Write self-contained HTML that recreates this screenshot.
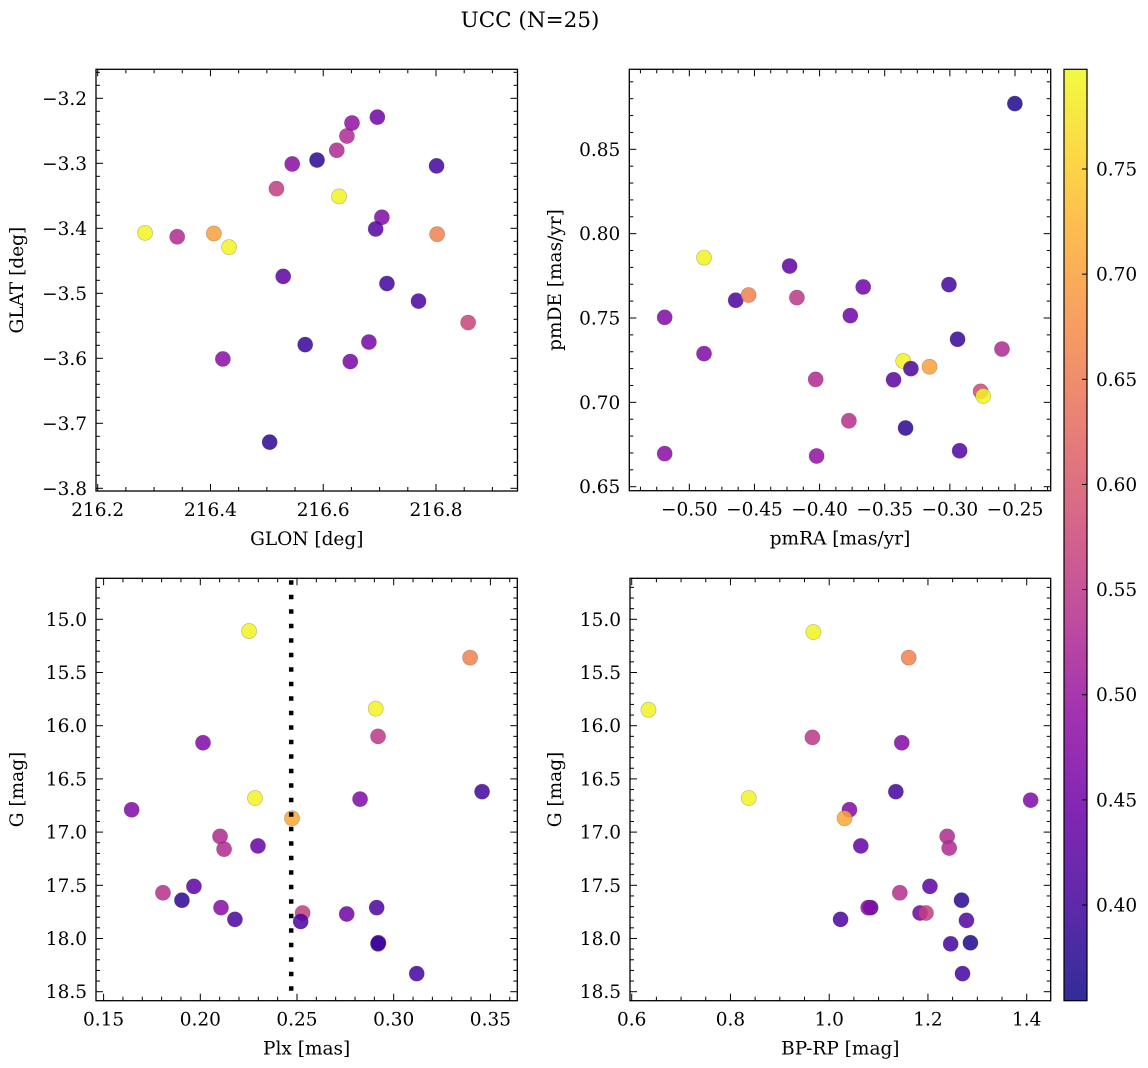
<!DOCTYPE html>
<html><head><meta charset="utf-8"><style>
body{margin:0;background:#fff;}
svg{display:block;font-family:"DejaVu Serif","Liberation Serif",serif;}
</style></head><body>
<svg id="fig" width="1148" height="1068" viewBox="0 0 1148 1068" xmlns="http://www.w3.org/2000/svg">
<rect width="1148" height="1068" fill="#fff"/>
<text x="530" y="27" text-anchor="middle" font-size="21.5">UCC (N=25)</text>
</svg>
<script>
// Panel 1: GLON vs GLAT
const glon1 = [216.284,216.341,216.406,216.433,216.517,216.529,216.545,216.422,216.568,216.589,216.624,216.642,216.651,216.628,216.648,216.696,216.704,216.693,216.713,216.681,216.769,216.801,216.802,216.857,216.505];
const glat1 = [-3.407,-3.413,-3.408,-3.429,-3.339,-3.474,-3.301,-3.601,-3.579,-3.295,-3.280,-3.258,-3.238,-3.351,-3.605,-3.229,-3.383,-3.401,-3.485,-3.575,-3.512,-3.304,-3.409,-3.545,-3.729];
const col1 = [0.79,0.53,0.70,0.79,0.56,0.43,0.48,0.48,0.39,0.38,0.53,0.53,0.49,0.79,0.46,0.45,0.47,0.42,0.40,0.46,0.41,0.40,0.66,0.57,0.38];
// Panel 2: pmRA vs pmDE
const pmra2 = [-0.2501,-0.4887,-0.5189,-0.5189,-0.4887,-0.4644,-0.4545,-0.4230,-0.4174,-0.4030,-0.4023,-0.3764,-0.3775,-0.3665,-0.3432,-0.3358,-0.3299,-0.3340,-0.3156,-0.3007,-0.2941,-0.2925,-0.2600,-0.2764,-0.2744];
const pmde2 = [0.8771,0.7858,0.7504,0.6696,0.7289,0.7605,0.7636,0.7808,0.7621,0.7136,0.6682,0.7514,0.6891,0.7684,0.7134,0.7245,0.7200,0.6848,0.7211,0.7698,0.7374,0.6713,0.7316,0.7065,0.7038];
const col2 = [0.37,0.79,0.47,0.48,0.47,0.41,0.66,0.43,0.55,0.53,0.49,0.45,0.54,0.45,0.43,0.79,0.41,0.38,0.70,0.40,0.39,0.42,0.53,0.58,0.79];
// Panel 3: Plx vs G
const plx3 = [0.1645,0.2014,0.2252,0.2283,0.2102,0.2123,0.2298,0.1807,0.1905,0.1967,0.2107,0.2179,0.2907,0.2919,0.2826,0.3457,0.2474,0.2529,0.2519,0.2757,0.2912,0.2919,0.2921,0.3119,0.3395];
const g3 = [16.79,16.16,15.11,16.68,17.04,17.16,17.13,17.57,17.64,17.51,17.71,17.82,15.84,16.10,16.69,16.62,16.87,17.76,17.84,17.77,17.71,18.05,18.04,18.33,15.36];
const col3 = [0.47,0.47,0.79,0.79,0.53,0.53,0.44,0.54,0.38,0.43,0.48,0.41,0.79,0.55,0.47,0.40,0.71,0.56,0.41,0.45,0.41,0.37,0.40,0.40,0.66];
// Panel 4: BP-RP vs G
const bprp4 = [0.634,0.968,0.837,1.161,0.966,1.147,1.135,1.408,1.041,1.031,1.064,1.239,1.243,1.204,1.143,1.268,1.084,1.079,1.184,1.196,1.023,1.278,1.246,1.286,1.270];
const g4 = [15.85,15.12,16.68,15.36,16.11,16.16,16.62,16.70,16.79,16.87,17.13,17.04,17.15,17.51,17.57,17.64,17.71,17.71,17.76,17.76,17.82,17.83,18.05,18.04,18.33];
const col4 = [0.79,0.79,0.79,0.66,0.55,0.47,0.40,0.47,0.47,0.71,0.44,0.53,0.53,0.43,0.54,0.38,0.41,0.48,0.45,0.56,0.41,0.42,0.40,0.37,0.40];
const plxLine = [0.247];
const cbTicks = [0.40,0.45,0.50,0.55,0.60,0.65,0.70,0.75];
const cMin = 0.355, cMax = 0.797;

const NS = "http://www.w3.org/2000/svg";
const svg = document.getElementById('fig');
const TF = 18.5, LF = 18.5;
function el(tag, attrs, parent){const e=document.createElementNS(NS,tag);for(const k in attrs)e.setAttribute(k,attrs[k]);(parent||svg).appendChild(e);return e;}
const stops=[[0,[13,8,135]],[0.1,[65,4,157]],[0.2,[106,0,168]],[0.3,[143,13,164]],[0.4,[177,42,144]],[0.5,[204,71,120]],[0.6,[225,100,98]],[0.7,[242,132,75]],[0.8,[252,166,54]],[0.9,[252,206,37]],[1,[240,249,33]]];
function plasma(t){t=Math.max(0,Math.min(1,t));for(let i=1;i<stops.length;i++){if(t<=stops[i][0]){const a=stops[i-1],b=stops[i];const f=(t-a[0])/(b[0]-a[0]);const c=a[1].map((v,j)=>Math.round(v+(b[1][j]-v)*f));return `rgb(${c[0]},${c[1]},${c[2]})`;}}return 'rgb(240,249,33)';}
function cmap(v){return plasma((v-cMin)/(cMax-cMin));}
function lin(v1,p1,v2,p2){const s=(p2-p1)/(v2-v1);const f=v=>p1+(v-v1)*s;f.inv=p=>v1+(p-p1)/s;return f;}
function fmt(v,d){const s=Math.abs(v).toFixed(d);return (v< -1e-9?'\u2212':'')+s;}

function panel(cfg){
  const g=el('g',{});
  
  
  const {x0,x1,y0,y1}=cfg.box;
  const sx=lin(...cfg.xs), sy=lin(...cfg.ys);
  const xa=Math.min(sx.inv(x0),sx.inv(x1)), xb=Math.max(sx.inv(x0),sx.inv(x1));
  const ya=Math.min(sy.inv(y0),sy.inv(y1)), yb=Math.max(sy.inv(y0),sy.inv(y1));
  const pg=el('g',{},g);
  
  
  cfg.x.forEach((xv,i)=>{
    const c=el('circle',{cx:sx(xv),cy:sy(cfg.y[i]),r:7.6,fill:cmap(cfg.c[i]),'fill-opacity':0.85,stroke:'rgba(60,60,60,0.35)','stroke-width':0.6},pg);
    
    
  });
  if(cfg.vline){cfg.vline.forEach(v=>{const l=el('line',{x1:sx(v),x2:sx(v),y1:y0+2,y2:y1,stroke:'#000','stroke-width':4.5,'stroke-dasharray':'4.5 10'},g);});}
  const tg=el('g',{stroke:'#000','stroke-width':1},g);
  
  
  const eps=1e-9;
  const n0=Math.ceil(xa/cfg.xminor-1e-6), n1=Math.floor(xb/cfg.xminor+1e-6);
  for(let n=n0;n<=n1;n++){const v=n*cfg.xminor;const p=sx(v);const major=Math.abs(v/cfg.xmajor-Math.round(v/cfg.xmajor))<1e-6;const L=major?7:4;el('line',{x1:p,x2:p,y1:y1,y2:y1-L},tg);el('line',{x1:p,x2:p,y1:y0,y2:y0+L},tg);
    if(major){const t=el('text',{x:p,y:y1+25,'text-anchor':'middle','font-size':TF,stroke:'none',fill:'#000'},g);t.textContent=fmt(v,cfg.xd);}}
  const m0=Math.ceil(ya/cfg.yminor-1e-6), m1=Math.floor(yb/cfg.yminor+1e-6);
  for(let n=m0;n<=m1;n++){const v=n*cfg.yminor;const p=sy(v);const major=Math.abs(v/cfg.ymajor-Math.round(v/cfg.ymajor))<1e-6;const L=major?7:4;el('line',{y1:p,y2:p,x1:x0,x2:x0+L},tg);el('line',{y1:p,y2:p,x1:x1,x2:x1-L},tg);
    if(major){const t=el('text',{x:x0-9,y:p+6.5,'text-anchor':'end','font-size':TF,stroke:'none',fill:'#000'},g);t.textContent=fmt(v,cfg.yd);}}
  const fr=el('rect',{x:x0,y:y0,width:x1-x0,height:y1-y0,fill:'none',stroke:'#000','stroke-width':1.3},g);
  
  
  const xl=el('text',{x:(x0+x1)/2,y:y1+54,'text-anchor':'middle','font-size':LF},g);xl.textContent=cfg.xlabel;
  
  
  const yl=el('text',{x:0,y:0,'text-anchor':'middle','font-size':LF,transform:`translate(${cfg.ylx},${(y0+y1)/2}) rotate(-90)`},g);yl.textContent=cfg.ylabel;
  
  
}

panel({name:'glon-glat-panel',box:{x0:96,x1:517.5,y0:69.3,y1:491},xs:[216.2,97.7,216.8,436],ys:[-3.2,98.3,-3.8,488.3],x:glon1,y:glat1,c:col1,xmajor:0.2,xminor:0.05,ymajor:0.1,yminor:0.02,xd:1,yd:1,xlabel:'GLON [deg]',ylabel:'GLAT [deg]',ylx:23});
panel({name:'pmra-pmde-panel',box:{x0:629.3,x1:1050.7,y0:69.3,y1:490.7},xs:[-0.5,689.3,-0.25,1015],ys:[0.85,149.3,0.65,486.7],x:pmra2,y:pmde2,c:col2,xmajor:0.05,xminor:0.0125,ymajor:0.05,yminor:0.01,xd:2,yd:2,xlabel:'pmRA [mas/yr]',ylabel:'pmDE [mas/yr]',ylx:561});
panel({name:'plx-g-panel',box:{x0:96,x1:517.3,y0:578.3,y1:1000.7},xs:[0.15,103.6,0.35,490.4],ys:[15,619.3,18.5,991.7],x:plx3,y:g3,c:col3,xmajor:0.05,xminor:0.01,ymajor:0.5,yminor:0.1,xd:2,yd:1,xlabel:'Plx [mas]',ylabel:'G [mag]',ylx:23,vline:plxLine});
panel({name:'bprp-g-panel',box:{x0:630,x1:1050.7,y0:578.3,y1:1000.7},xs:[0.6,631.7,1.4,1026.7],ys:[15,619.3,18.5,991.7],x:bprp4,y:g4,c:col4,xmajor:0.2,xminor:0.05,ymajor:0.5,yminor:0.1,xd:1,yd:1,xlabel:'BP-RP [mag]',ylabel:'G [mag]',ylx:561});

const cb=el('g',{});


const defs=el('defs',{},cb);
const lg=el('linearGradient',{id:'cbg',x1:0,y1:1,x2:0,y2:0},defs);
for(let i=0;i<=20;i++){el('stop',{offset:i/20,'stop-color':plasma(i/20)},lg);}
const cbx0=1064,cbx1=1087,cby0=69.3,cby1=1000.7;
el('rect',{x:cbx0,y:cby0,width:cbx1-cbx0,height:cby1-cby0,fill:'url(#cbg)','fill-opacity':0.85},cb);
el('rect',{x:cbx0,y:cby0,width:cbx1-cbx0,height:cby1-cby0,fill:'none',stroke:'#000','stroke-width':1.2},cb);
const cs=lin(0.40,905,0.75,169);
cbTicks.forEach(v=>{const p=cs(v);el('line',{x1:cbx1,x2:cbx1-5,y1:p,y2:p,stroke:'#000','stroke-width':1},cb);
  const t=el('text',{x:cbx1+9,y:p+6.5,'font-size':TF},cb);t.textContent=v.toFixed(2);
  
  });
</script>
</body></html>
